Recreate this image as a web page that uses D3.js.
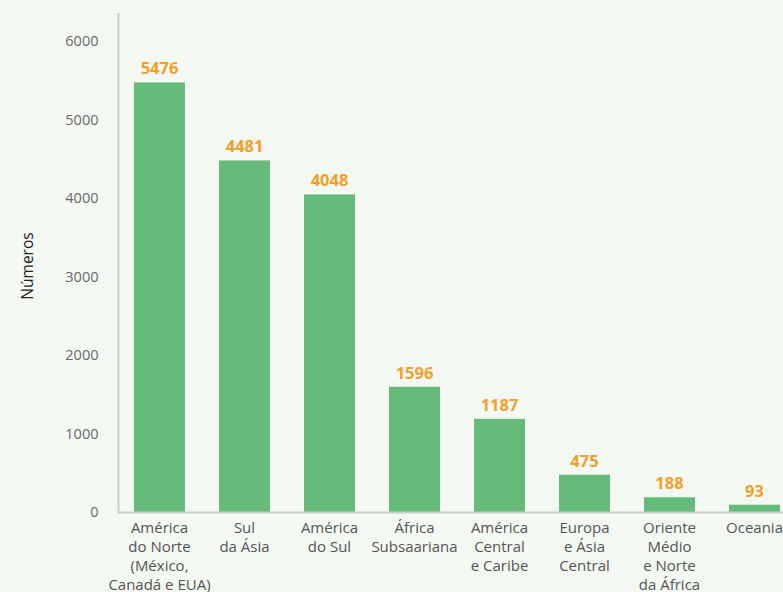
<!DOCTYPE html>
<html><head><meta charset="utf-8">
<script src="https://cdn.jsdelivr.net/npm/d3@7/dist/d3.min.js"></script>
<style>
html,body{margin:0;padding:0;background:#f4f8f2;overflow:hidden;}
svg{display:block;}
</style></head>
<body>
<svg id="chart" width="783" height="592"></svg>
<script>
const categories = [
  ["América","do Norte","(México,","Canadá e EUA)"],
  ["Sul","da Ásia"],
  ["América","do Sul"],
  ["África","Subsaariana"],
  ["América","Central","e Caribe"],
  ["Europa","e Ásia","Central"],
  ["Oriente","Médio","e Norte","da África"],
  ["Oceania"]
];
const values = [5476, 4481, 4048, 1596, 1187, 475, 188, 93];
const yTicks = [0, 1000, 2000, 3000, 4000, 5000, 6000];
const yLabel = "Números";

const svg = d3.select("#chart");
const W = 783, H = 592;
svg.append("rect").attr("width", W).attr("height", H).attr("fill", "#f4f8f2");

const idx = d3.range(values.length);
const x = d3.scaleBand().domain(idx).range([117, 797]).paddingInner(0.4).paddingOuter(0.2);
const y = d3.scaleLinear().domain([0, 6360]).range([512, 13]);

// bars
svg.append("g").selectAll("rect").data(values).join("rect")
  .attr("x", (d, i) => x(i))
  .attr("y", d => y(d))
  .attr("width", x.bandwidth())
  .attr("height", d => y(0) - y(d))
  .attr("fill", "#66bb7a");

// value labels
svg.append("g").selectAll("text").data(values).join("text")
  .attr("x", (d, i) => x(i) + x.bandwidth() / 2)
  .attr("y", d => y(d) - 8)
  .attr("text-anchor", "middle")
  .attr("font-family", "'Open Sans', sans-serif")
  .attr("font-weight", 700)
  .attr("font-size", 16.5)
  .attr("fill", "#f0a02a")
  .text(d => d);

// y axis
const yAxis = d3.axisLeft(y).tickValues(yTicks).tickFormat(d3.format("d")).tickSize(0).tickPadding(20);
const gy = svg.append("g").attr("transform", "translate(118.5,0)").call(yAxis);
gy.select(".domain").remove();
gy.selectAll("text")
  .attr("font-family", "'Open Sans', sans-serif")
  .attr("font-size", 14.5)
  .attr("fill", "#6a6a6a");
svg.append("line").attr("x1", 118.5).attr("x2", 118.5).attr("y1", y.range()[1]).attr("y2", y(0) + 1)
  .attr("stroke", "#cccccc").attr("stroke-width", 2);

// x baseline
svg.append("line").attr("x1", 118).attr("x2", W).attr("y1", y(0) + 0.5).attr("y2", y(0) + 0.5)
  .attr("stroke", "#cccccc").attr("stroke-width", 2);

// category labels
const gx = svg.append("g");
categories.forEach((lines, i) => {
  const t = gx.append("text")
    .attr("x", x(i) + x.bandwidth() / 2)
    .attr("y", 533)
    .attr("text-anchor", "middle")
    .attr("font-family", "'Open Sans', sans-serif")
    .attr("font-size", 15)
    .attr("fill", "#555555");
  lines.forEach((ln, j) => {
    t.append("tspan").attr("x", x(i) + x.bandwidth() / 2).attr("dy", j === 0 ? 0 : 19).text(ln);
  });
});

// y label
svg.append("text")
  .attr("transform", "translate(33,266) rotate(-90)")
  .attr("text-anchor", "middle")
  .attr("font-family", "'Open Sans', sans-serif")
  .attr("font-size", 15.5)
  .attr("fill", "#222")
  .text(yLabel);
</script>
</body></html>
